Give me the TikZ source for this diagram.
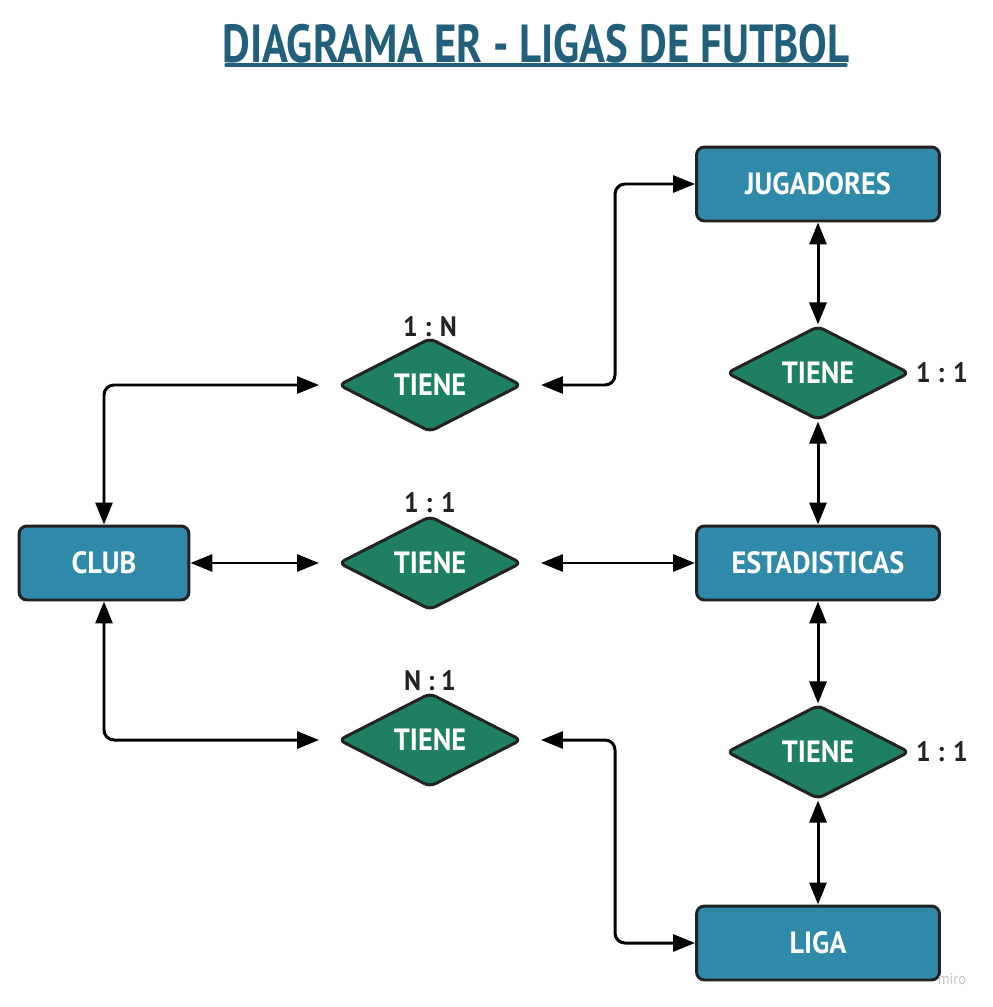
\documentclass[tikz,border=0pt]{standalone}
\usepackage{fontspec}
\setmainfont{PT Sans}[FakeStretch=0.92]
\newfontfamily\titlefont{PT Sans}[FakeStretch=0.8]
\usetikzlibrary{shapes.geometric,arrows.meta}
\definecolor{entidad}{HTML}{2F8AAA}
\definecolor{relacion}{HTML}{1F7F62}
\definecolor{titulo}{HTML}{215F7B}
\definecolor{borde}{HTML}{222222}
\begin{document}
\begin{tikzpicture}[x=0.02cm,y=-0.02cm,line join=round,line cap=round,
  >={Triangle[length=0.44cm,width=0.34cm]},
  entidad/.style={draw=borde,line width=1.7pt,fill=entidad,rounded corners=0.16cm,
    minimum width=4.86cm,minimum height=1.48cm,text=white,font=\bfseries\fontsize{17.5}{19}\selectfont},
  relacion/.style={diamond,draw=borde,line width=1.7pt,fill=relacion,rounded corners=0.12cm,
    minimum width=3.66cm,minimum height=1.7cm,inner sep=0pt,text=white,font=\bfseries\fontsize{17.5}{19}\selectfont},
  card/.style={text=borde,font=\bfseries\fontsize{16}{18}\selectfont},
  flecha/.style={<->,line width=1.7pt,rounded corners=0.2cm}]
\useasboundingbox (0,0) rectangle (992,1007);
% titulo
\node[text=titulo,font=\titlefont\bfseries\fontsize{30.5}{34}\selectfont] (titulo) at (536,44) {DIAGRAMA ER - LIGAS DE FUTBOL};
\draw[titulo,line width=1.8pt] (226,65) -- (846,65);
% entidades
\node[entidad] (jug) at (818,184) {JUGADORES};
\node[entidad] (est) at (818,563) {ESTADISTICAS};
\node[entidad] (liga) at (818,943) {LIGA};
\node[entidad,minimum width=3.4cm] (club) at (104,563) {CLUB};
% relaciones
\node[relacion] (r1) at (430,385) {TIENE};
\node[relacion] (r2) at (430,563) {TIENE};
\node[relacion] (r3) at (430,740) {TIENE};
\node[relacion] (r4) at (818,373) {TIENE};
\node[relacion] (r5) at (818,752) {TIENE};
% cardinalidades
\node[card] (c1) at (430,327) {1 : N};
\node[card] (c2) at (430,503) {1 : 1};
\node[card] (c3) at (430,681) {N : 1};
\node[card,anchor=west] (c4) at (910,373) {1 : 1};
\node[card,anchor=west] (c5) at (910,752) {1 : 1};
% conexiones
\draw[flecha,shorten >=0.36cm] (club.north) |- (r1.west);
\draw[flecha,shorten >=0.36cm] (club.south) |- (r3.west);
\draw[flecha,shorten >=0.36cm] (club.east) -- (r2.west);
\draw[flecha,shorten <=0.36cm] (r2.east) -- (est.west);
\draw[flecha,shorten <=0.36cm] (r1.east) -- (615,385) |- (jug.west);
\draw[flecha,shorten <=0.36cm] (r3.east) -- (615,740) |- (liga.west);
\draw[flecha] (jug.south) -- (r4.north);
\draw[flecha] (r4.south) -- (est.north);
\draw[flecha] (est.south) -- (r5.north);
\draw[flecha] (r5.south) -- (liga.north);
% marca
\node[text=black!22,font=\fontsize{9}{10}\selectfont] (marca) at (952,979) {miro};
\end{tikzpicture}
\end{document}
